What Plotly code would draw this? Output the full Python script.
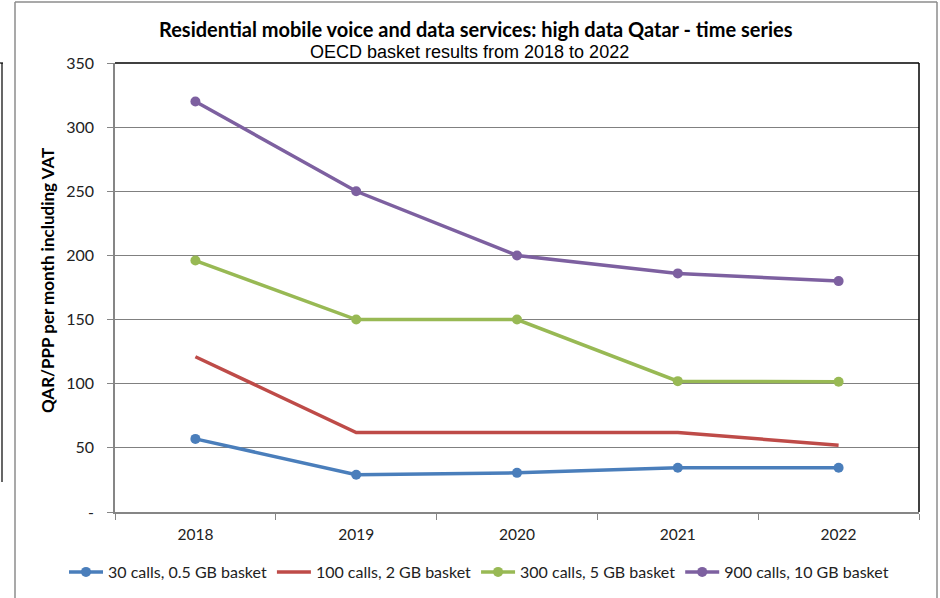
import plotly.graph_objects as go

years = ["2018", "2019", "2020", "2021", "2022"]
series_names = ["30 calls, 0.5 GB basket", "100 calls, 2 GB basket",
                "300 calls, 5 GB basket", "900 calls, 10 GB basket"]
calls30 = [57, 29, 30.5, 34.5, 34.5]
calls100 = [121, 62, 62, 62, 52]
calls300 = [196, 150, 150, 102, 101.5]
calls900 = [320, 250, 200, 186, 180]
colors = ["#4A7EBB", "#BE4B48", "#98B954", "#7D60A0"]
markers_on = [True, False, True, True]
y_tickvals = [0, 50, 100, 150, 200, 250, 300, 350]
y_ticktext = ["-", "50", "100", "150", "200", "250", "300", "350"]

title_text = "Residential mobile voice and data services: high data Qatar - time series"
subtitle_text = "OECD basket results from 2018 to 2022"
ytitle_text = "QAR/PPP per month including VAT"

W, H = 940, 598
L, R, T, B = 115, 919, 63, 512

def px(x):
    return (x - L) / (R - L)

def py(y):
    return (B - y) / (B - T)

fig = go.Figure()
for name, vals, col, mk in zip(series_names, [calls30, calls100, calls300, calls900], colors, markers_on):
    fig.add_trace(go.Scatter(
        x=years, y=vals, name=name,
        mode="lines+markers" if mk else "lines",
        line=dict(color=col, width=3.5),
        marker=dict(color=col, size=10, symbol="circle"),
    ))

font_main = "Lato, Carlito, Calibri, sans-serif"

fig.update_layout(
    width=W, height=H,
    margin=dict(l=L, r=W - R, t=T, b=H - B, autoexpand=False),
    paper_bgcolor="white", plot_bgcolor="white",
    showlegend=True,
    legend=dict(orientation="h", x=px(64), xanchor="left", y=py(572), yanchor="middle",
                font=dict(family=font_main, size=16, color="#222"),
                itemwidth=34, tracegroupgap=0, traceorder="normal"),
    font=dict(family=font_main, size=15, color="#222"),
)

fig.update_xaxes(
    type="category", range=[-0.5, 4.5],
    showline=True, linecolor="#868686", linewidth=1.5, mirror=False,
    ticks="outside", tickson="boundaries", ticklen=6, tickcolor="#868686", tickwidth=1,
    showgrid=False, zeroline=False,
    tickfont=dict(family=font_main, size=15.5, color="#222"), ticklabelstandoff=8,
)
fig.update_yaxes(
    range=[0, 350], tickvals=y_tickvals, ticktext=y_ticktext,
    showline=True, linecolor="#868686", linewidth=1.5,
    ticks="outside", ticklen=6, tickcolor="#868686", tickwidth=1,
    showgrid=True, gridcolor="#808080", gridwidth=1.2, zeroline=False,
    tickfont=dict(family=font_main, size=16, color="#222"), ticklabelstandoff=10,
)

# plot border (top & right black)
fig.add_shape(type="line", xref="paper", yref="paper", x0=0, x1=1, y0=1, y1=1,
              line=dict(color="black", width=1.5))
fig.add_shape(type="line", xref="paper", yref="paper", x0=1, x1=1, y0=0, y1=1,
              line=dict(color="black", width=1.5))
# chart frame (gray)
fig.add_shape(type="line", xref="paper", yref="paper", x0=px(15), x1=px(15), y0=py(2), y1=py(598),
              line=dict(color="#8c8c8c", width=1.5))
fig.add_shape(type="line", xref="paper", yref="paper", x0=px(15), x1=px(937), y0=py(2), y1=py(2),
              line=dict(color="#8c8c8c", width=1.5))
fig.add_shape(type="line", xref="paper", yref="paper", x0=px(937), x1=px(937), y0=py(2), y1=py(598),
              line=dict(color="#8c8c8c", width=1.5))
# neighbouring chart edge at far left
fig.add_shape(type="line", xref="paper", yref="paper", x0=px(2), x1=px(2), y0=py(63), y1=py(482),
              line=dict(color="black", width=1.2))
fig.add_shape(type="line", xref="paper", yref="paper", x0=px(0), x1=px(3), y0=py(63), y1=py(63),
              line=dict(color="black", width=1.2))

fig.add_annotation(text="<b>" + title_text + "</b>", xref="paper", yref="paper",
                   x=px(476), y=py(29), xanchor="center", yanchor="middle", showarrow=False,
                   font=dict(family=font_main, size=20, color="black"))
fig.add_annotation(text=subtitle_text, xref="paper", yref="paper",
                   x=px(469), y=py(52), xanchor="center", yanchor="middle", showarrow=False,
                   font=dict(family="Liberation Sans, Arial, sans-serif", size=18, color="black"))
fig.add_annotation(text="<b>" + ytitle_text + "</b>", xref="paper", yref="paper",
                   x=px(47), y=py(281), xanchor="center", yanchor="middle", showarrow=False,
                   textangle=-90,
                   font=dict(family=font_main, size=17, color="black"))

fig.write_html("out.html", config={"displayModeBar": False},
               post_script="document.body.style.margin='0';document.body.style.padding='0';")
